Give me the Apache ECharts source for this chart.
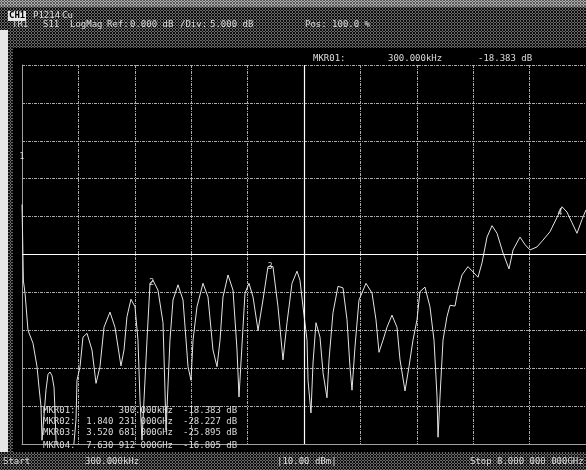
<!DOCTYPE html>
<html>
<head>
<meta charset="utf-8">
<script src="https://cdn.jsdelivr.net/npm/echarts@6/dist/echarts.min.js"></script>
<style>
html, body { margin: 0; padding: 0; background: #000; }
#wrap { position: relative; width: 586px; height: 470px; }
#band { position: absolute; left: 0; top: 0; width: 586px; height: 7px; }
#chart { position: absolute; left: 0; top: 0; width: 586px; height: 470px; }
</style>
</head>
<body>
<div id="wrap"><div id="band"></div><div id="chart"></div></div>
<script>
// trace S11 (GHz, dB)
const freqGHz = [0.0003,0.020,0.043,0.085,0.156,0.213,0.241,0.270,0.284,0.312,
  0.340,0.369,0.397,0.426,0.454,0.468,0.482,0.54,0.68,0.766,
  0.780,0.823,0.865,0.922,0.993,1.050,1.106,1.163,1.248,1.319,
  1.404,1.447,1.489,1.546,1.603,1.645,1.674,1.702,1.773,1.816,
  1.858,1.929,2.000,2.028,2.043,2.099,2.142,2.213,2.284,2.355,
  2.397,2.426,2.482,2.567,2.638,2.709,2.766,2.809,2.851,2.922,
  2.993,3.050,3.078,3.163,3.220,3.277,3.348,3.418,3.489,3.560,
  3.631,3.702,3.759,3.830,3.901,3.943,3.986,4.043,4.057,4.099,
  4.128,4.170,4.227,4.270,4.326,4.355,4.411,4.482,4.553,4.610,
  4.652,4.681,4.723,4.780,4.879,4.965,5.021,5.064,5.121,5.177,
  5.248,5.319,5.362,5.433,5.489,5.546,5.603,5.645,5.716,5.787,
  5.844,5.887,5.901,5.929,5.972,6.028,6.071,6.142,6.184,6.241,
  6.326,6.397,6.468,6.525,6.596,6.667,6.738,6.823,6.908,6.965,
  7.064,7.135,7.206,7.305,7.390,7.489,7.589,7.660,7.730,7.801,
  7.872,7.943,8.000]
const traceDb = [-18.4,-28.5,-30.1,-35.0,-36.7,-39.8,-42.5,-45.1,-49.5,-49.5,
  -42.9,-40.8,-40.5,-41.0,-42.5,-45.5,-49.5,-56,-56,-46.8,
  -41.6,-39.8,-35.9,-35.4,-37.6,-42.0,-39.8,-34.6,-32.6,-34.6,
  -39.7,-37.6,-33.2,-30.9,-31.9,-36.3,-44.2,-49.5,-36.3,-28.8,
  -28.4,-29.7,-34.0,-42.9,-48.2,-36.3,-31.0,-29.0,-31.0,-39.8,
  -41.6,-36.3,-31.9,-28.8,-30.6,-37.6,-39.8,-36.3,-30.6,-27.7,
  -29.7,-37.6,-43.8,-30.1,-28.8,-30.6,-35.0,-31.0,-26.6,-26.6,
  -31.9,-38.9,-34.0,-28.8,-27.2,-28.4,-31.9,-36.3,-41.6,-45.9,
  -39.3,-34.0,-35.9,-40.6,-43.9,-38.9,-32.7,-29.2,-29.4,-33.6,
  -39.8,-42.9,-37.2,-31.0,-28.8,-30.1,-33.6,-37.9,-36.3,-34.6,
  -33.0,-34.6,-38.9,-43.0,-39.8,-36.3,-33.6,-29.9,-29.3,-31.9,
  -36.3,-43.8,-49.1,-43.8,-36.3,-33.2,-31.7,-31.8,-29.7,-27.7,
  -26.6,-27.3,-28.0,-26.1,-22.7,-21.2,-22.2,-24.8,-26.9,-24.4,
  -22.7,-23.7,-24.4,-24.0,-23.1,-22.0,-20.1,-18.7,-19.4,-20.8,
  -22.2,-20.4,-19.1]

// markers
const markerNames = ['MKR01:', 'MKR02:', 'MKR03:', 'MKR04.']
const markerFreqGHz = [0.0003, 1.840, 3.520, 7.630]
const markerFreqText = ['300.000kHz', '1.840 231 000GHz', '3.520 681 000GHz', '7.630 912 000GHz']
const markerDbText = ['-18.383 dB', '-28.227 dB', '-25.895 dB', '-16.805 dB']
const markerSymbolDb = [-12.1, -28.8, -26.6, -19.5]

// header / footer
const headerTop = ['P1214', 'Cu']
const headerRow = ['TR1', 'S11', 'LogMag', 'Ref:', '0.000 dB', '/Div:', '5.000 dB', 'Pos: 100.0 %']
const footer = ['Start', '300.000kHz', '|10.00 dBm|', 'Stop', '8.000 000 000GHz']

// dithered panel background
function tile(bg, dot) {
	const c = document.createElement('canvas')
	c.width = 3
	c.height = 3
	const g = c.getContext('2d')
	g.fillStyle = bg
	g.fillRect(0, 0, 3, 3)
	g.fillStyle = dot
	g.fillRect(1, 0, 1, 1)
	g.fillRect(0, 1, 1, 1)
	g.fillRect(2, 1, 1, 1)
	g.fillRect(1, 2, 1, 1)
	return c.toDataURL()
}
document.getElementById('wrap').style.backgroundImage = `url(${tile('#0e0e0e', '#6a6a6a')})`
document.getElementById('band').style.backgroundImage = `url(${tile('#5a5a5a', '#b0b0b0')})`

const mono = 'DejaVu Sans Mono'
const txtColor = '#dcdcdc'
function txt(x, y, s, extra) {
	return {
		type: 'text', x: x, y: y, z: 10,
		style: Object.assign({ text: s, fill: txtColor, font: `9px "${mono}"`, verticalAlign: 'middle' }, extra || {}),
	}
}

const graphics = [
	{ type: 'rect', shape: { x: 13, y: 48, width: 573, height: 404 }, style: { fill: '#000' }, z: -10 },
	{ type: 'rect', shape: { x: 0, y: 30, width: 8, height: 422 }, style: { fill: '#e6e6e6' }, z: -10 },
	{ type: 'rect', shape: { x: 8, y: 11, width: 18, height: 10 }, style: { fill: '#e8e8e8' }, z: 5 },
	txt(9, 16, 'CH1', { fill: '#000', font: `bold 9px "${mono}"` }),
	txt(33, 16, headerTop[0]),
	txt(62, 16, headerTop[1]),
]
const headerX = [12, 43, 70, 107, 130, 180, 210, 305]
headerRow.forEach((s, i) => graphics.push(txt(headerX[i], 25, s)))

// active marker readout
graphics.push(txt(313, 59, 'MKR01:'))
graphics.push(txt(388, 59, markerFreqText[0]))
graphics.push(txt(478, 59, markerDbText[0]))

// marker table
const rowY = [411, 422, 433, 446]
markerNames.forEach((n, i) => {
	graphics.push(txt(43, rowY[i], n))
	graphics.push(txt(173, rowY[i], markerFreqText[i], { align: 'right' }))
	graphics.push(txt(183, rowY[i], markerDbText[i]))
})

const footX = [3, 85, 277, 470, 497]
footer.forEach((s, i) => graphics.push(txt(footX[i], 462, s)))

const gridLine = { color: '#aaaaaa', type: [3, 1, 1, 1], width: 1 }

let option = {
	animation: false,
	backgroundColor: 'transparent',
	grid: { left: 22, right: 0, top: 65, bottom: 26, show: true, backgroundColor: '#000', borderWidth: 0 },
	xAxis: {
		type: 'value', min: 0, max: 8, interval: 0.8,
		axisLine: { show: true, onZero: false, lineStyle: { color: '#a0a0a0' } },
		axisTick: { show: false },
		axisLabel: { show: false },
		splitLine: { show: true, lineStyle: gridLine },
	},
	yAxis: {
		type: 'value', min: -50, max: 0, interval: 5,
		axisLine: { show: true, onZero: false, lineStyle: { color: '#a0a0a0' } },
		axisTick: { show: false },
		axisLabel: { show: false },
		splitLine: { show: true, lineStyle: gridLine },
	},
	graphic: graphics,
	series: [
		{
			type: 'line',
			data: freqGHz.map((f, i) => [f, traceDb[i]]),
			symbol: 'none',
			lineStyle: { color: '#e4e4e4', width: 1 },
			markLine: {
				silent: true,
				symbol: 'none',
				label: { show: false },
				lineStyle: { color: '#ffffff', type: 'solid', width: 1.2 },
				data: [{ yAxis: -25 }, { xAxis: 4 }],
			},
		},
		{
			type: 'scatter',
			data: markerFreqGHz.map((f, i) => [f, markerSymbolDb[i]]),
			symbolSize: 0,
			z: 5,
			label: {
				show: true,
				position: 'inside',
				formatter: (p) => String(p.dataIndex + 1),
				color: '#ffffff',
				fontSize: 8,
				fontFamily: mono,
			},
		},
	],
}

let myChart = echarts.init(document.getElementById('chart'))
option && myChart.setOption(option)
</script>
</body>
</html>
